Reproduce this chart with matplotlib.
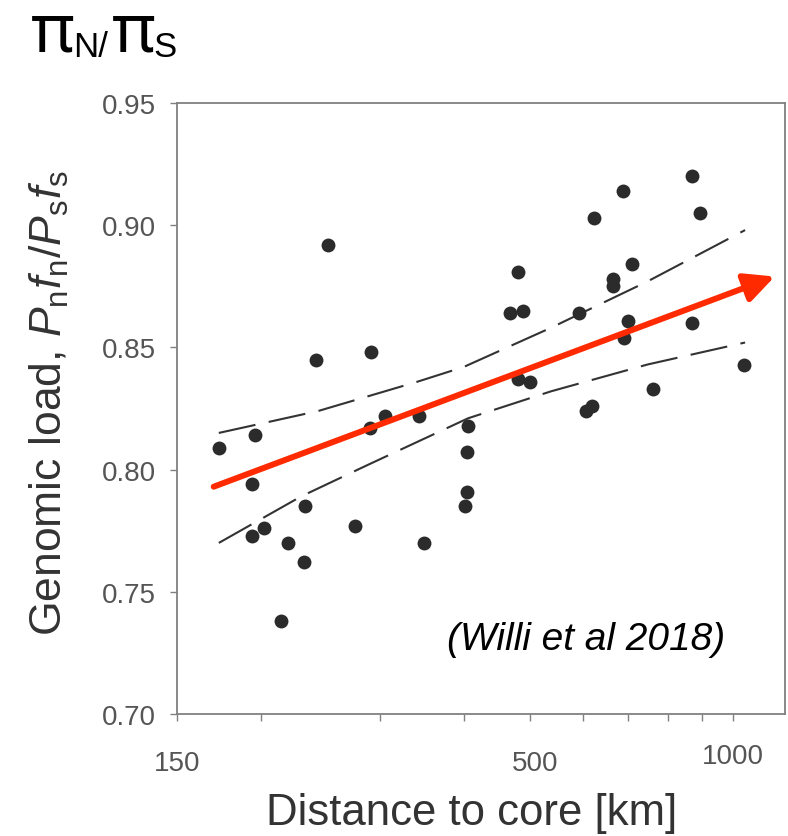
import matplotlib
matplotlib.use("Agg")
import matplotlib.pyplot as plt
import matplotlib.transforms as mtransforms

plt.rcParams['font.family'] = 'Liberation Sans'
plt.rcParams['mathtext.fontset'] = 'custom'
plt.rcParams['mathtext.rm'] = 'Liberation Sans'
plt.rcParams['mathtext.it'] = 'Liberation Sans:italic'

# distance to core [km] vs genomic load
distance = [173, 196, 194, 194, 202, 219, 232, 231, 214, 241, 251, 275, 290, 291,
            305, 343, 348, 405, 403, 403, 401, 467, 488, 480, 480, 500, 592, 605,
            619, 623, 663, 663, 686, 690, 700, 709, 762, 870, 870, 894, 1038]
load = [0.809, 0.814, 0.794, 0.773, 0.776, 0.770, 0.785, 0.762, 0.738, 0.845,
        0.892, 0.777, 0.817, 0.848, 0.822, 0.822, 0.770, 0.818, 0.807, 0.791,
        0.785, 0.864, 0.865, 0.881, 0.837, 0.836, 0.864, 0.824, 0.826, 0.903,
        0.878, 0.875, 0.914, 0.854, 0.861, 0.884, 0.833, 0.920, 0.860, 0.905,
        0.843]

# dashed confidence band
upper_x = [173, 243, 341, 399, 537, 747, 1042]
upper_y = [0.815, 0.824, 0.836, 0.842, 0.858, 0.877, 0.898]
lower_x = [173, 229, 288, 405, 537, 747, 1042]
lower_y = [0.770, 0.789, 0.802, 0.821, 0.832, 0.843, 0.852]

# red trend arrow (start, end)
trend_x = [170, 1153]
trend_y = [0.793, 0.879]

ytick_vals = [0.70, 0.75, 0.80, 0.85, 0.90, 0.95]
xtick_major = [150, 500, 1000]
xtick_minor = [200, 300, 400, 600, 700, 800, 900]

W, H = 788, 837
fig = plt.figure(figsize=(W / 100, H / 100), dpi=100)
ax = fig.add_axes([177 / W, 1 - 715 / H, (785 - 177) / W, (715 - 104) / H])

ax.plot(upper_x, upper_y, color='#333333', lw=1.5, dashes=(18, 6.5))
ax.plot(lower_x, lower_y, color='#333333', lw=1.5, dashes=(18, 6.5))
ax.plot(distance, load, 'o', color='#2b2b2b', ms=10, mew=0, zorder=3)

ax.annotate('', xy=(trend_x[1], trend_y[1]), xytext=(trend_x[0], trend_y[0]),
            arrowprops=dict(arrowstyle='-|>,head_length=0.45,head_width=0.22',
                            mutation_scale=40, lw=4.3, color='#ff2a00',
                            shrinkA=0, shrinkB=0), zorder=4)

ax.set_xscale('log')
ax.set_xlim(150, 1194)
ax.set_ylim(0.70, 0.95)
ax.set_xticks(xtick_major)
ax.set_xticklabels([str(v) for v in xtick_major])
ax.set_xticks(xtick_minor, minor=True)
ax.set_xticklabels([], minor=True)
ax.set_yticks(ytick_vals)
ax.set_yticklabels(['%.2f' % v for v in ytick_vals])

for s in ax.spines.values():
    s.set_color('#808080')
    s.set_linewidth(1.3)
ax.tick_params(axis='both', which='both', direction='out', length=5, width=1,
               color='#808080', labelcolor='#555555', labelsize=20)
ax.tick_params(axis='y', pad=10)
ax.tick_params(axis='x', which='major', pad=21)

# nudge 500 and 1000 labels like the original
labs = ax.get_xticklabels()
labs[1].set_transform(labs[1].get_transform() +
                      mtransforms.ScaledTranslation(0.05, 0, fig.dpi_scale_trans))
labs[2].set_transform(labs[2].get_transform() +
                      mtransforms.ScaledTranslation(0, 0.07, fig.dpi_scale_trans))

ax.set_xlabel('Distance to core [km]', fontsize=31.5, color='#333333')
ax.xaxis.set_label_coords(0.484, -0.128)
ax.set_ylabel(r'Genomic load, $P_{\mathregular{n}}f_{\mathregular{n}}/P_{\mathregular{s}}f_{\mathregular{s}}$',
              fontsize=32, color='#333333')
ax.yaxis.set_label_coords(-0.175, 0.51)

ax.text(0.673, 0.123, '(Willi et al 2018)', transform=ax.transAxes,
        fontsize=28, style='italic', ha='center', va='center', color='black')

# title pi_N / pi_S
tfont = 'Noto Sans'
fig.text(31 / W, 1 - 52 / H, '\u03c0', fontsize=48, family=tfont, ha='left', va='baseline')
fig.text(73 / W, 1 - 57 / H, 'N/', fontsize=25, ha='left', va='baseline')
fig.text(112 / W, 1 - 52 / H, '\u03c0', fontsize=48, family=tfont, ha='left', va='baseline')
fig.text(153 / W, 1 - 57 / H, 'S', fontsize=25, ha='left', va='baseline')

fig.savefig('out.png', dpi=100)
